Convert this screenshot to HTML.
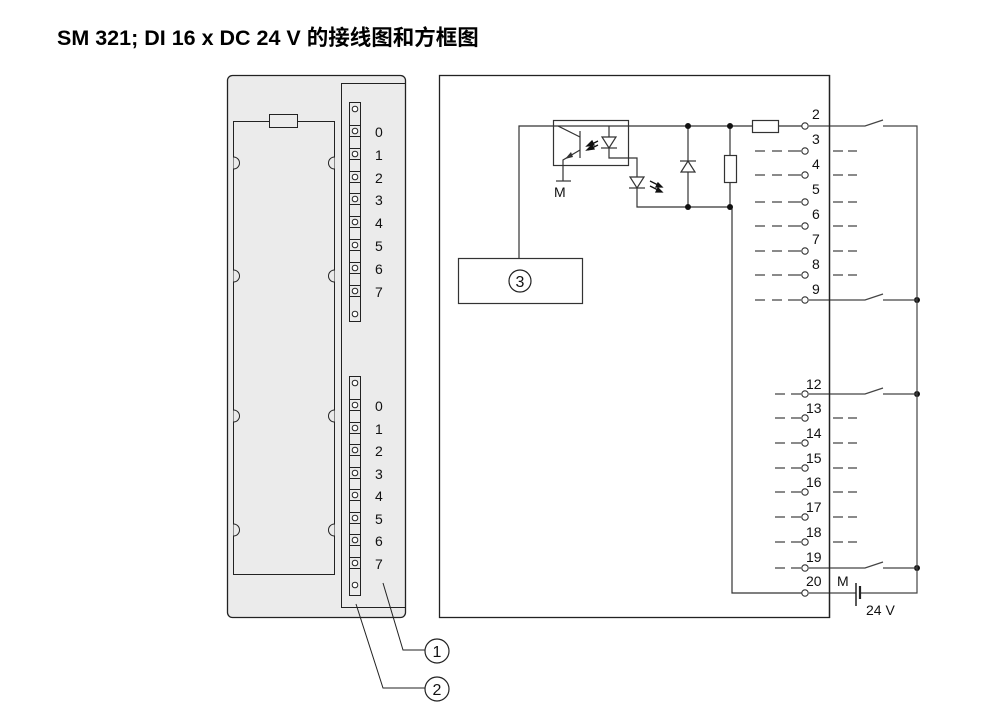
<!DOCTYPE html>
<html><head><meta charset="utf-8"><style>
html,body{margin:0;padding:0;background:#fff;}
svg{display:block;}
text{font-family:"Liberation Sans","Noto Sans CJK SC",sans-serif;}
</style></head><body>
<svg width="988" height="702" viewBox="0 0 988 702" xmlns="http://www.w3.org/2000/svg">
<text x="57" y="45" font-size="21.5" font-weight="bold" fill="#000">SM 321; DI 16 x DC 24 V 的接线图和方框图</text>

<!-- module -->
<rect x="227.5" y="75.5" width="178" height="542" rx="5" fill="#ebebeb" stroke="#222" stroke-width="1.3"/>
<path d="M405.5 83.5 H341.5 V607.5 H405.5" fill="none" stroke="#222" stroke-width="1"/>
<rect x="233.5" y="121.5" width="101" height="453" fill="#ebebeb" stroke="#222" stroke-width="1"/>
<rect x="269.5" y="114.5" width="28" height="13" fill="#ebebeb" stroke="#222" stroke-width="1"/>
<g fill="#ebebeb" stroke="#222" stroke-width="1">
<path d="M233.5 157 A6 6 0 0 1 233.5 169"/><path d="M233.5 270 A6 6 0 0 1 233.5 282"/>
<path d="M233.5 410 A6 6 0 0 1 233.5 422"/><path d="M233.5 524 A6 6 0 0 1 233.5 536"/>
<path d="M334.5 157 A6 6 0 0 0 334.5 169"/><path d="M334.5 270 A6 6 0 0 0 334.5 282"/>
<path d="M334.5 410 A6 6 0 0 0 334.5 422"/><path d="M334.5 524 A6 6 0 0 0 334.5 536"/>
</g>
<!-- strips -->
<g stroke="#222" stroke-width="1" fill="none">
<rect x="349.5" y="102.5" width="11" height="219"/>
<rect x="349.5" y="376.5" width="11" height="219"/>
</g>
<g stroke="#222" stroke-width="1" fill="none">
<rect x="349.5" y="125.5" width="11" height="11"/><rect x="349.5" y="148.5" width="11" height="11"/>
<rect x="349.5" y="171.5" width="11" height="11"/><rect x="349.5" y="193.5" width="11" height="11"/>
<rect x="349.5" y="216.5" width="11" height="11"/><rect x="349.5" y="239.5" width="11" height="11"/>
<rect x="349.5" y="262.5" width="11" height="11"/><rect x="349.5" y="285.5" width="11" height="11"/>
<rect x="349.5" y="399.5" width="11" height="11"/><rect x="349.5" y="422.5" width="11" height="11"/>
<rect x="349.5" y="444.5" width="11" height="11"/><rect x="349.5" y="467.5" width="11" height="11"/>
<rect x="349.5" y="489.5" width="11" height="11"/><rect x="349.5" y="512.5" width="11" height="11"/>
<rect x="349.5" y="534.5" width="11" height="11"/><rect x="349.5" y="557.5" width="11" height="11"/>
</g>
<g stroke="#222" stroke-width="1" fill="#fff">
<circle cx="355" cy="109" r="2.8"/><circle cx="355" cy="131" r="2.8"/><circle cx="355" cy="154" r="2.8"/><circle cx="355" cy="177" r="2.8"/><circle cx="355" cy="199" r="2.8"/><circle cx="355" cy="222" r="2.8"/><circle cx="355" cy="245" r="2.8"/><circle cx="355" cy="268" r="2.8"/><circle cx="355" cy="291" r="2.8"/><circle cx="355" cy="314" r="2.8"/>
<circle cx="355" cy="383" r="2.8"/><circle cx="355" cy="405" r="2.8"/><circle cx="355" cy="428" r="2.8"/><circle cx="355" cy="450" r="2.8"/><circle cx="355" cy="473" r="2.8"/><circle cx="355" cy="495" r="2.8"/><circle cx="355" cy="518" r="2.8"/><circle cx="355" cy="540" r="2.8"/><circle cx="355" cy="563" r="2.8"/><circle cx="355" cy="585" r="2.8"/>
</g>
<g font-size="14" fill="#111">
<text x="375" y="137">0</text><text x="375" y="160">1</text><text x="375" y="183">2</text><text x="375" y="205">3</text><text x="375" y="228">4</text><text x="375" y="251">5</text><text x="375" y="274">6</text><text x="375" y="297">7</text>
<text x="375" y="411">0</text><text x="375" y="434">1</text><text x="375" y="456">2</text><text x="375" y="479">3</text><text x="375" y="501">4</text><text x="375" y="524">5</text><text x="375" y="546">6</text><text x="375" y="569">7</text>
</g>
<!-- callouts -->
<g stroke="#222" stroke-width="1" fill="none">
<path d="M383 583 L403 650 H425"/>
<path d="M356 604 L383 688 H425"/>
</g>
<g stroke="#222" stroke-width="1.2" fill="#fff">
<circle cx="437" cy="651" r="12"/><circle cx="437" cy="689" r="12"/>
</g>
<g font-size="16" fill="#111" text-anchor="middle"><text x="437" y="657">1</text><text x="437" y="695">2</text></g>

<!-- right box -->
<rect x="439.5" y="75.5" width="390" height="542" fill="#fff" stroke="#222" stroke-width="1.3"/>
<g stroke="#333" stroke-width="1.2" fill="none">
<path d="M519 258 V126 H752"/>
<path d="M778 126 H805"/>
<rect x="458.5" y="258.5" width="124" height="45"/>
<rect x="553.5" y="120.5" width="75" height="45"/>
<path d="M558 126 L580 137"/><path d="M580 131 V158"/>
<path d="M580 150 L563 160 V181"/><path d="M556 181 H571"/>
<path d="M609 126 V158 H637 V207 H730"/>
<path d="M688 126 V207"/>
<path d="M730 126 V155"/><path d="M730 182 V207"/>
<path d="M732 207 V593 H805"/>
<rect x="752.5" y="120.5" width="26" height="12"/>
<rect x="724.5" y="155.5" width="12" height="27"/>
</g>
<path d="M565 159 L571 152 L573 157 Z" fill="#333"/>
<g stroke="#333" stroke-width="1.2" fill="#fff">
<path d="M602 137 H616 L609 148 Z"/><path d="M601 148 H617"/>
<path d="M630 177 H644 L637 188 Z"/><path d="M629 188 H645"/>
<path d="M681 172 H695 L688 161 Z"/><path d="M680 161 H696"/>
</g>
<g stroke="#111" stroke-width="1.3" fill="#111">
<path d="M598 141 L588 146"/><path d="M587 146 L592 141 L594 145 Z"/>
<path d="M598 145 L588 150"/><path d="M587 150 L592 145 L594 149 Z"/>
<path d="M650 181 L660 186"/><path d="M662 187 L656 187 L658 183 Z"/>
<path d="M650 186 L660 191"/><path d="M662 192 L656 192 L658 188 Z"/>
</g>
<text x="554" y="197" font-size="14" fill="#111">M</text>
<circle cx="520" cy="281" r="11" fill="#fff" stroke="#222" stroke-width="1.2"/>
<text x="520" y="287" font-size="16" fill="#111" text-anchor="middle">3</text>
<g fill="#111">
<circle cx="688" cy="126" r="3"/><circle cx="730" cy="126" r="3"/>
<circle cx="688" cy="207" r="3"/><circle cx="730" cy="207" r="3"/>
<circle cx="917" cy="300" r="3"/><circle cx="917" cy="394" r="3"/><circle cx="917" cy="568" r="3"/>
</g>
<g stroke="#444" stroke-width="1.2" fill="none">
<path d="M755 151 H765 M772 151 H782 M788 151 H801 M833 151 H843 M848 151 H857"/>
<path d="M755 175 H765 M772 175 H782 M788 175 H801 M833 175 H843 M848 175 H857"/>
<path d="M755 202 H765 M772 202 H782 M788 202 H801 M833 202 H843 M848 202 H857"/>
<path d="M755 226 H765 M772 226 H782 M788 226 H801 M833 226 H843 M848 226 H857"/>
<path d="M755 251 H765 M772 251 H782 M788 251 H801 M833 251 H843 M848 251 H857"/>
<path d="M755 275 H765 M772 275 H782 M788 275 H801 M833 275 H843 M848 275 H857"/>
<path d="M755 300 H765 M772 300 H782 M788 300 H801"/>
<path d="M809 126 H865 L883 120 M883 126 H917 V568"/>
<path d="M809 300 H865 L883 294 M883 300 H917"/>
<path d="M775 394 H785 M791 394 H801 M809 394 H865 L883 388 M883 394 H917"/>
<path d="M775 418 H785 M791 418 H801 M833 418 H843 M848 418 H857"/>
<path d="M775 443 H785 M791 443 H801 M833 443 H843 M848 443 H857"/>
<path d="M775 468 H785 M791 468 H801 M833 468 H843 M848 468 H857"/>
<path d="M775 492 H785 M791 492 H801 M833 492 H843 M848 492 H857"/>
<path d="M775 517 H785 M791 517 H801 M833 517 H843 M848 517 H857"/>
<path d="M775 542 H785 M791 542 H801 M833 542 H843 M848 542 H857"/>
<path d="M775 568 H785 M791 568 H801 M809 568 H865 L883 562 M883 568 H917"/>
<path d="M809 593 H856 M860 593 H917 V568"/>
</g>
<path d="M856 583 V606" stroke="#222" stroke-width="1.5"/>
<path d="M860 586 V599" stroke="#222" stroke-width="2.2"/>
<g stroke="#333" stroke-width="1.1" fill="#fff">
<circle cx="805" cy="126" r="3.2"/><circle cx="805" cy="151" r="3.2"/><circle cx="805" cy="175" r="3.2"/><circle cx="805" cy="202" r="3.2"/><circle cx="805" cy="226" r="3.2"/><circle cx="805" cy="251" r="3.2"/><circle cx="805" cy="275" r="3.2"/><circle cx="805" cy="300" r="3.2"/>
<circle cx="805" cy="394" r="3.2"/><circle cx="805" cy="418" r="3.2"/><circle cx="805" cy="443" r="3.2"/><circle cx="805" cy="468" r="3.2"/><circle cx="805" cy="492" r="3.2"/><circle cx="805" cy="517" r="3.2"/><circle cx="805" cy="542" r="3.2"/><circle cx="805" cy="568" r="3.2"/><circle cx="805" cy="593" r="3.2"/>
</g>
<path d="M829.5 75 V618" stroke="#222" stroke-width="1.3"/>
<g font-size="14" fill="#111">
<text x="812" y="119">2</text><text x="812" y="144">3</text><text x="812" y="169">4</text><text x="812" y="194">5</text><text x="812" y="219">6</text><text x="812" y="244">7</text><text x="812" y="269">8</text><text x="812" y="294">9</text>
<text x="806" y="389">12</text><text x="806" y="413">13</text><text x="806" y="438">14</text><text x="806" y="463">15</text><text x="806" y="487">16</text><text x="806" y="512">17</text><text x="806" y="537">18</text><text x="806" y="562">19</text><text x="806" y="586">20</text>
<text x="837" y="586">M</text><text x="866" y="615">24 V</text>
</g>
</svg>
</body></html>
